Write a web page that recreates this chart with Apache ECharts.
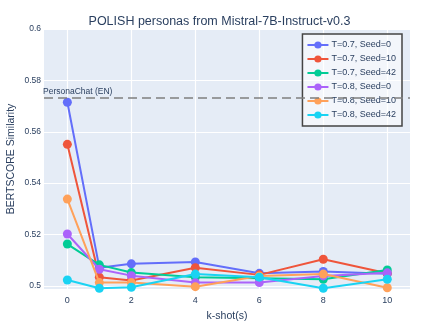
<!DOCTYPE html>
<html>
<head>
<meta charset="utf-8">
<script src="https://cdn.jsdelivr.net/npm/echarts@6/dist/echarts.min.js"></script>
<style>
    html, body { margin: 0; padding: 0; background: #fff; }
    #chart { width: 439px; height: 329px; }
</style>
</head>
<body>
<div id="chart"></div>
<script>
    // k-shot values on the x axis
    var kShots = [0, 1, 2, 4, 6, 8, 10];

    // BERTSCORE per run
    var t07s0  = [0.5715, 0.5071, 0.5086, 0.5093, 0.5049, 0.5056, 0.5047];
    var t07s10 = [0.5551, 0.5034, 0.5021, 0.5071, 0.5043, 0.5104, 0.5049];
    var t07s42 = [0.5163, 0.5082, 0.5052, 0.5034, 0.5030, 0.5026, 0.5062];
    var t08s0  = [0.5202, 0.5065, 0.5040, 0.5013, 0.5013, 0.5039, 0.5051];
    var t08s10 = [0.5338, 0.5013, 0.5013, 0.4997, 0.5039, 0.5046, 0.4993];
    var t08s42 = [0.5023, 0.4991, 0.4995, 0.5046, 0.5034, 0.4991, 0.5026];

    var baselineEN = 0.5732;

    var xTicks = [0, 2, 4, 6, 8, 10];
    var yTicks = [0.5, 0.52, 0.54, 0.56, 0.58, 0.6];

    var runs = [
        { name: 'T=0.7, Seed=0',  data: t07s0,  color: '#636efa' },
        { name: 'T=0.7, Seed=10', data: t07s10, color: '#EF553B' },
        { name: 'T=0.7, Seed=42', data: t07s42, color: '#00cc96' },
        { name: 'T=0.8, Seed=0',  data: t08s0,  color: '#ab63fa' },
        { name: 'T=0.8, Seed=10', data: t08s10, color: '#FFA15A' },
        { name: 'T=0.8, Seed=42', data: t08s42, color: '#19d3f3' }
    ];

    var font = '"Liberation Sans", Arial, sans-serif';
    var textColor = '#2a3f5f';

    var series = runs.map(function (r, i) {
        return {
            name: r.name,
            type: 'line',
            data: kShots.map(function (k, j) { return [k, r.data[j]]; }),
            symbol: 'circle',
            symbolSize: 9,
            showSymbol: true,
            lineStyle: { width: 2, color: r.color },
            itemStyle: { color: r.color },
            emphasis: { disabled: true },
            z: 3 + i
        };
    });

    // 虚线基准 PersonaChat (EN)，单独一个空系列承载
    series.unshift({
        name: 'baseline',
        type: 'line',
        data: [],
        z: 2,
        markLine: {
            silent: true,
            symbol: 'none',
            precision: 4,
            lineStyle: { type: [9, 5], color: '#7f7f7f', width: 1.6 },
            label: {
                show: true,
                position: 'insideStartTop',
                formatter: 'PersonaChat (EN)',
                color: textColor,
                fontFamily: font,
                fontSize: 8.5,
                distance: [-1, 2]
            },
            data: [{ yAxis: baselineEN }]
        }
    });

    var option = {
        animation: false,
        backgroundColor: '#ffffff',
        title: {
            text: 'POLISH personas from Mistral-7B-Instruct-v0.3',
            left: 'center',
            top: 10,
            textStyle: { color: textColor, fontFamily: font, fontSize: 12.5, fontWeight: 'normal' }
        },
        legend: {
            orient: 'vertical',
            right: 37,
            top: 34,
            padding: [5, 6, 5, 4],
            itemWidth: 21,
            itemHeight: 9,
            itemGap: 2,
            backgroundColor: 'rgba(255,255,255,0.55)',
            borderColor: '#444',
            borderWidth: 1.5,
            borderRadius: 0,
            textStyle: { color: textColor, fontFamily: font, fontSize: 9, lineHeight: 12, padding: [0, 0, 0, -2] },
            data: runs.map(function (r) { return r.name; })
        },
        grid: {
            left: 44,
            right: 29,
            top: 29,
            bottom: 40,
            containLabel: false,
            outerBoundsMode: 'none',
            show: true,
            backgroundColor: '#E5ECF6',
            borderWidth: 0
        },
        xAxis: {
            type: 'value',
            min: -0.73,
            max: 10.71,
            name: 'k-shot(s)',
            nameLocation: 'middle',
            nameGap: 22,
            nameMoveOverlap: false,
            nameTextStyle: { color: textColor, fontFamily: font, fontSize: 10.5 },
            axisLine: { show: false },
            axisTick: { show: false, customValues: xTicks },
            axisLabel: { customValues: xTicks, color: textColor, fontFamily: font, fontSize: 9, margin: 7 },
            splitLine: { show: true, lineStyle: { color: '#ffffff', width: 1.2 } }
        },
        yAxis: {
            type: 'value',
            min: 0.4988,
            max: 0.6,
            name: 'BERTSCORE Similarity',
            nameLocation: 'middle',
            nameGap: 27,
            nameMoveOverlap: false,
            nameTextStyle: { color: textColor, fontFamily: font, fontSize: 10.5 },
            axisLine: { show: false },
            axisTick: { show: false, customValues: yTicks },
            axisLabel: {
                customValues: yTicks,
                color: textColor, fontFamily: font, fontSize: 8.5, margin: 3,
                formatter: function (v) { return String(+v.toFixed(2)); }
            },
            splitLine: { show: true, lineStyle: { color: '#ffffff', width: 1.2 } }
        },
        series: series
    };

    var chart = echarts.init(document.getElementById('chart'));
    chart.setOption(option);
</script>
</body>
</html>
